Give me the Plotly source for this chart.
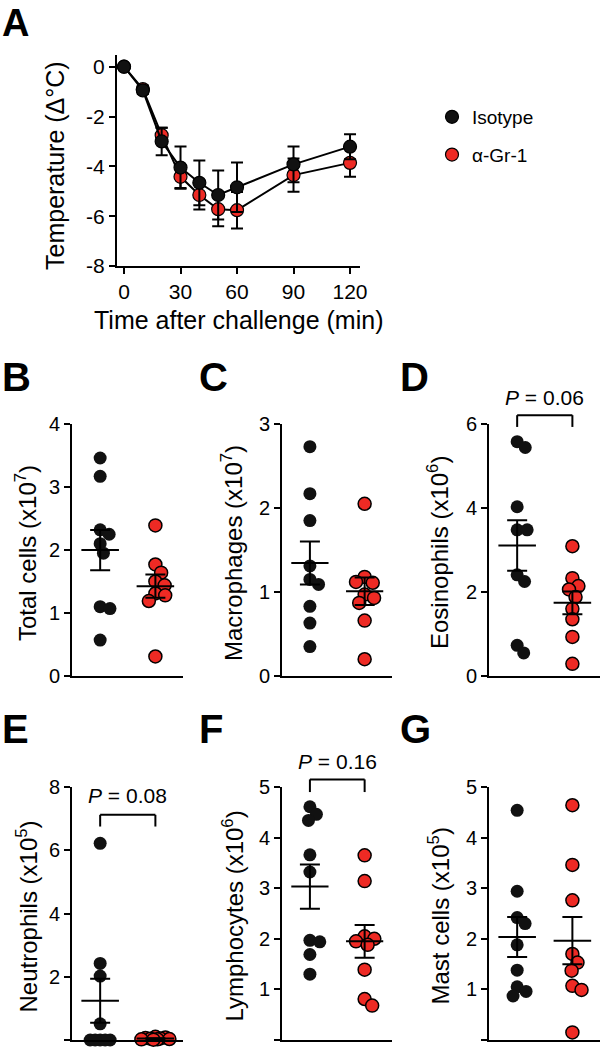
import math
import numpy as np
import plotly.graph_objects as go

W, H = 601, 1050
FONT = "Liberation Sans, Arial, sans-serif"
RED = "#EE2A24"
BLK = "#111111"

# ---------------- Panel A data ----------------
time_min = [0, 10, 20, 30, 40, 50, 60, 90, 120]
iso_temp = [0, -0.95, -3.0, -4.05, -4.66, -5.15, -4.84, -3.92, -3.21]
iso_temp_sem = [0, 0.15, 0.55, 0.85, 0.90, 0.98, 0.99, 0.72, 0.50]
gr1_temp = [0, -0.90, -2.75, -4.42, -5.15, -5.72, -5.76, -4.35, -3.86]
gr1_temp_sem = [0, 0.15, 0.30, 0.45, 0.58, 0.68, 0.73, 0.67, 0.56]
a_xticks = [0, 30, 60, 90, 120]
a_yticks = [0, -2, -4, -6, -8]
a_yticklabels = ["0", "-2", "-4", "-6", "-8"]

# ---------------- Panels B-G data ----------------
total_iso = [3.46, 3.17, 2.32, 2.25, 2.10, 1.95, 1.10, 1.07, 0.57]
total_gr1 = [2.39, 1.77, 1.64, 1.50, 1.44, 1.31, 1.28, 1.19, 0.31]
macro_iso = [2.73, 2.17, 1.85, 1.31, 1.15, 1.09, 0.83, 0.63, 0.35]
macro_gr1 = [2.05, 1.18, 1.11, 1.12, 0.97, 0.93, 0.87, 0.66, 0.20]
eos_iso = [5.58, 5.44, 4.03, 3.48, 3.48, 2.41, 2.25, 0.73, 0.55]
eos_gr1 = [3.09, 2.33, 2.14, 2.06, 1.88, 1.60, 1.35, 0.93, 0.29]
neut_iso = [6.22, 2.42, 2.02, 0.51, 0.0, 0.0, 0.0, 0.0, 0.0]
neut_gr1 = [0.10, 0.08, 0.06, 0.05, 0.04, 0.03, 0.02, 0.02, 0.01]
lymph_iso = [4.61, 4.46, 4.34, 3.66, 3.32, 1.97, 1.94, 1.69, 1.30]
lymph_gr1 = [3.65, 3.14, 2.05, 2.00, 1.95, 1.88, 1.39, 0.81, 0.68]
mast_iso = [4.54, 2.94, 2.42, 2.30, 1.88, 1.38, 1.05, 0.96, 0.87]
mast_gr1 = [4.64, 3.46, 2.76, 1.70, 1.53, 1.37, 1.07, 0.99, 0.15]

panel_letters = ["B", "C", "D", "E", "F", "G"]
panel_titles = ["Total cells (x10<sup>7</sup>)", "Macrophages (x10<sup>7</sup>)",
                "Eosinophils (x10<sup>6</sup>)", "Neutrophils (x10<sup>5</sup>)",
                "Lymphocytes (x10<sup>6</sup>)", "Mast cells (x10<sup>5</sup>)"]
panel_ymax = [4, 3, 6, 8, 5, 5]
panel_ystep = [1, 1, 2, 2, 1, 1]
panel_pvalues = [None, None, "0.06", "0.08", "0.16", None]
iso_sets = [total_iso, macro_iso, eos_iso, neut_iso, lymph_iso, mast_iso]
gr1_sets = [total_gr1, macro_gr1, eos_gr1, neut_gr1, lymph_gr1, mast_gr1]

# ---------------- layout geometry (pixels) ----------------
col_px = [(72, 183), (282, 392), (489, 600)]
row_px = [(424, 676), (787, 1040)]
XR = [-0.51, 1.5]          # category axis range (iso at 0, gr1 at 1)
bracket_y = {2: (6.21, 5.93, 6.64), 3: (7.12, 6.75, 7.72), 4: (5.15, 4.90, 5.50)}


def xd(a, b):
    return [a / W, b / W]


def yd(top, bot):
    return [1 - bot / H, 1 - top / H]


def swarm(values, ppx, ppy, D=10.0, limit=14.0):
    """Deterministic beeswarm offsets (in category units)."""
    placed, offs = [], []
    for v in values:
        y = v * ppy
        cands = [0.0]
        for (px, py) in placed:
            dy = abs(y - py)
            if dy < D:
                dx = math.sqrt(D * D - dy * dy)
                cands += [px + dx, px - dx]
        cands = [cc for cc in cands if abs(cc) <= limit + 1e-9]
        cands.sort(key=lambda c: (round(abs(c), 6), -c))
        chosen = None
        for c in cands:
            if all((c - px) ** 2 + (y - py) ** 2 >= D * D - 1e-6 for px, py in placed):
                chosen = c
                break
        if chosen is None:
            best, bestd = 0.0, -1.0
            steps = int(limit)
            grid = sorted(range(-steps, steps + 1), key=lambda g: (abs(g), -g))
            for g in grid:
                dmin = min(math.hypot(g - px, y - py) for px, py in placed)
                if dmin > bestd + 1e-6:
                    best, bestd = float(g), dmin
            chosen = best
        placed.append((chosen, y))
        offs.append(chosen / ppx)
    return offs


fig = go.Figure()
axis_common = dict(showline=True, linewidth=2, linecolor="black", ticks="outside",
                   ticklen=6, tickwidth=2, tickcolor="black", showgrid=False,
                   zeroline=False, tickfont=dict(family=FONT, size=20, color="black"))

# ---------------- Panel A ----------------
line_style = dict(color="black", width=2)
fig.add_trace(go.Scatter(x=time_min, y=gr1_temp, mode="lines", line=line_style,
                         showlegend=False, xaxis="x", yaxis="y", hoverinfo="skip"))
fig.add_trace(go.Scatter(x=time_min, y=gr1_temp, mode="markers", name="\u03b1-Gr-1",
                         marker=dict(size=13, color=RED, line=dict(color="black", width=1.2)),
                         error_y=dict(type="data", array=gr1_temp_sem, color="black",
                                      thickness=2, width=6),
                         legendgroup="g2", legendrank=2, cliponaxis=False,
                         xaxis="x", yaxis="y"))
fig.add_trace(go.Scatter(x=time_min, y=iso_temp, mode="lines", line=line_style,
                         showlegend=False, xaxis="x", yaxis="y", hoverinfo="skip"))
fig.add_trace(go.Scatter(x=time_min, y=iso_temp, mode="markers", name="Isotype",
                         marker=dict(size=13, color=BLK, line=dict(color="black", width=1.2)),
                         error_y=dict(type="data", array=iso_temp_sem, color="black",
                                      thickness=2, width=6),
                         legendgroup="g1", legendrank=1, cliponaxis=False,
                         xaxis="x", yaxis="y"))

layout = dict(
    width=W, height=H, margin=dict(l=0, r=0, t=0, b=0, autoexpand=False),
    autosize=False,
    paper_bgcolor="white", plot_bgcolor="white",
    font=dict(family=FONT, color="black"),
    showlegend=True,
    legend=dict(x=432 / W, y=1 - 98 / H, xanchor="left", yanchor="top",
                font=dict(family=FONT, size=19, color="black"),
                tracegroupgap=10, bgcolor="rgba(0,0,0,0)"),
)
layout["xaxis"] = dict(axis_common, domain=xd(117, 360), anchor="y", range=[-3.72, 125.3],
                       tickvals=a_xticks, tickfont=dict(family=FONT, size=21, color="black"))
layout["yaxis"] = dict(axis_common, domain=yd(55, 266), anchor="x", range=[-8, 0.47],
                       tickvals=a_yticks, ticktext=a_yticklabels,
                       tickfont=dict(family=FONT, size=21, color="black"))


def ann(text, x, y, size, angle=0, xanchor="center", yanchor="middle"):
    return dict(text=text, x=x / W, y=1 - y / H, xref="paper", yref="paper",
                xanchor=xanchor, yanchor=yanchor, textangle=angle, showarrow=False,
                font=dict(size=size, family=FONT, color="black"))


annotations = [
    ann("<b>A</b>", 0, 0, 38, xanchor="left", yanchor="top"),
    ann("Temperature (\u0394\u00b0C)", 55, 166, 25, angle=-90),
    ann("Time after challenge (min)", 238, 320, 25),
]
shapes = []

# ---------------- Panels B-G ----------------
label_x = [0, 197, 398]
label_y = [377, 729]
title_x = [26, 232, 438]
for i in range(6):
    r, c = divmod(i, 3)
    ax = i + 2
    xs, ys = f"x{ax}", f"y{ax}"
    x0, x1 = col_px[c]
    top, bot = row_px[r]
    ymax = panel_ymax[i]
    ppx = (x1 - x0) / (XR[1] - XR[0])
    ppy = (bot - top) / ymax
    for gi, (vals, col) in enumerate([(iso_sets[i], BLK), (gr1_sets[i], RED)]):
        offs = swarm(vals, ppx, ppy)
        mk = dict(size=13, color=col,
                  line=dict(color="black", width=1.5 if col == RED else 0))
        fig.add_trace(go.Scatter(x=[gi + o for o in offs], y=vals, mode="markers",
                                 marker=mk, showlegend=False, cliponaxis=False,
                                 xaxis=xs, yaxis=ys))
    for gi, vals in enumerate([iso_sets[i], gr1_sets[i]]):
        arr = np.array(vals)
        m = float(arr.mean())
        s = float(arr.std(ddof=1) / math.sqrt(len(arr)))
        fig.add_trace(go.Scatter(x=[gi - 0.34, gi + 0.34], y=[m, m], mode="lines",
                                 line=dict(color="black", width=2), showlegend=False,
                                 cliponaxis=False,
                                 xaxis=xs, yaxis=ys, hoverinfo="skip"))
        fig.add_trace(go.Scatter(x=[gi], y=[m], mode="markers",
                                 marker=dict(size=1, color="rgba(0,0,0,0)"),
                                 error_y=dict(type="data", array=[s], color="black",
                                              thickness=2, width=10),
                                 showlegend=False, cliponaxis=False,
                                 xaxis=xs, yaxis=ys, hoverinfo="skip"))
    layout[f"xaxis{ax}"] = dict(axis_common, domain=xd(x0, x1), anchor=ys, range=XR,
                                tickvals=[], showticklabels=False, ticks="")
    layout[f"yaxis{ax}"] = dict(axis_common, domain=yd(top, bot), anchor=xs,
                                range=[0, ymax],
                                tickvals=list(range(0, ymax + 1, panel_ystep[i])))
    annotations.append(ann(f"<b>{panel_letters[i]}</b>", label_x[c], label_y[r], 40,
                           xanchor="left"))
    annotations.append(ann(panel_titles[i], title_x[c], (top + bot) / 2 + 3, 24, angle=-90))
    if panel_pvalues[i] is not None:
        btop, bleg, ptxt = bracket_y[i]
        fx = lambda v: (v - XR[0]) / (XR[1] - XR[0])
        xr_, yr_ = f"x{ax} domain", f"y{ax} domain"
        for (a, b, cc, d) in [(0, btop, 1, btop), (0, btop, 0, bleg), (1, btop, 1, bleg)]:
            shapes.append(dict(type="line", xref=xr_, yref=yr_, x0=fx(a), x1=fx(cc),
                               y0=b / ymax, y1=d / ymax,
                               line=dict(color="black", width=2)))
        annotations.append(dict(text=f"<i>P</i> = {panel_pvalues[i]}", xref=xr_, yref=yr_,
                                x=fx(0.5), y=ptxt / ymax, showarrow=False,
                                xanchor="center", yanchor="middle",
                                font=dict(size=21, family=FONT, color="black")))

layout["annotations"] = annotations
layout["shapes"] = shapes
fig.update_layout(**layout)
fig.write_html("out.html", config={"responsive": False, "displayModeBar": False},
               post_script="document.body.style.margin='0';document.body.style.padding='0';")
